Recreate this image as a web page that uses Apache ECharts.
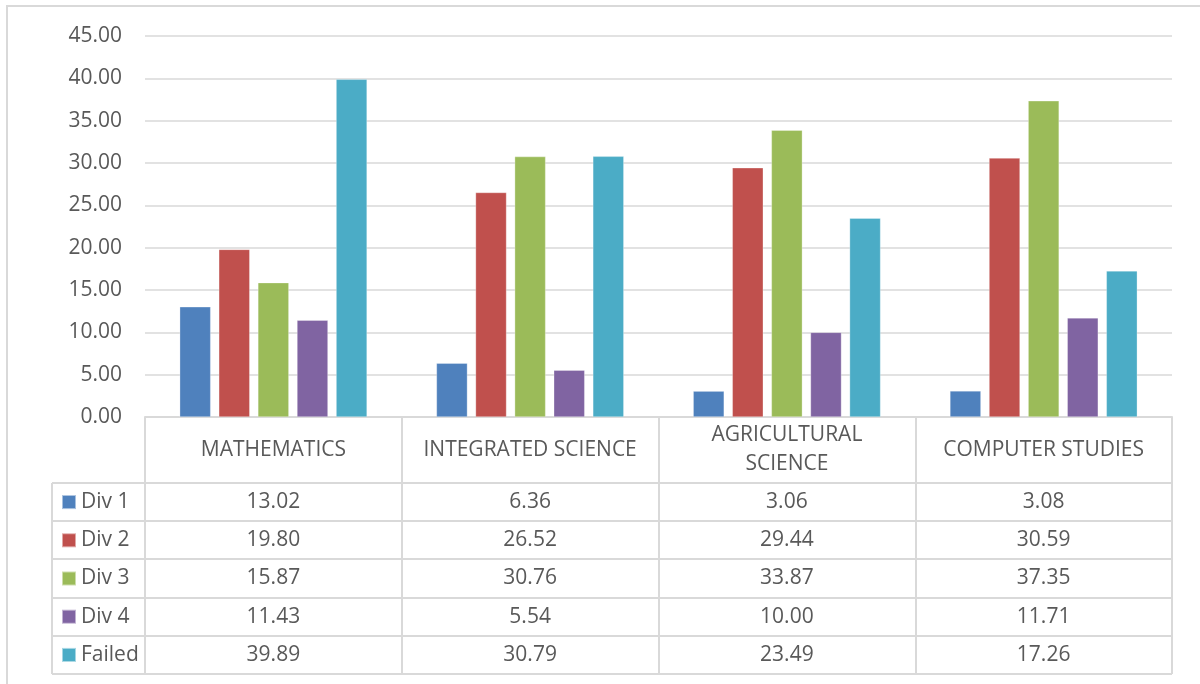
<!DOCTYPE html>
<html>
<head>
<meta charset="utf-8">
<title>Division results by subject</title>
<script src="https://cdn.jsdelivr.net/npm/echarts@6/dist/echarts.min.js"></script>
<style>
  html, body { margin: 0; padding: 0; background: #ffffff; }
  #chart { width: 1200px; height: 684px; }
</style>
</head>
<body>
<div id="chart"></div>
<script>
// Subjects along the category axis and their header text in the data table
const subjects = ['MATHEMATICS', 'INTEGRATED SCIENCE', 'AGRICULTURAL SCIENCE', 'COMPUTER STUDIES'];
const subjectHeaders = ['MATHEMATICS', 'INTEGRATED SCIENCE', 'AGRICULTURAL\nSCIENCE', 'COMPUTER STUDIES'];

// Percentage of candidates in each division, per subject
const div1 = [13.02, 6.36, 3.06, 3.08];
const div2 = [19.80, 26.52, 29.44, 30.59];
const div3 = [15.87, 30.76, 33.87, 37.35];
const div4 = [11.43, 5.54, 10.00, 11.71];
const failed = [39.89, 30.79, 23.49, 17.26];

const seriesNames = ['Div 1', 'Div 2', 'Div 3', 'Div 4', 'Failed'];
const seriesValues = [div1, div2, div3, div4, failed];
const seriesColors = ['#4f81bd', '#c0504d', '#9bbb59', '#8064a2', '#4bacc6'];

// Value axis ticks
const yMin = 0, yMax = 45, yStep = 5;

// Layout of the plot and the data table underneath it
const W = 1200, H = 684;
const plotLeft = 145, plotRight = 1172, plotTop = 36, plotBottom = 417;
const headerHeight = 66, rowHeight = 38.2;
const legendColLeft = 52;
const textColor = '#595959';
const lineColor = '#d9d9d9';
const fontFamily = '"Open Sans", "Noto Sans", sans-serif';
const fontSize = 21;

const chart = echarts.init(document.getElementById('chart'), null, { renderer: 'canvas' });

const tableBottom = plotBottom + headerHeight + rowHeight * seriesNames.length;

// One hidden category axis per table row prints that row's values
const rowAxes = seriesValues.map((vals, i) => ({
  type: 'category',
  gridIndex: 0,
  position: 'bottom',
  data: subjects,
  axisLine: { show: false },
  axisTick: { show: false },
  splitLine: { show: false },
  axisLabel: {
    interval: 0,
    margin: headerHeight + rowHeight * (i + 0.5),
    verticalAlign: 'middle',
    color: textColor,
    fontFamily: fontFamily,
    fontSize: fontSize,
    formatter: (v, idx) => vals[idx].toFixed(2)
  }
}));

// A single-item legend per row, placed in the table's left column
const legends = seriesNames.map((name, i) => ({
  data: [name],
  orient: 'vertical',
  left: legendColLeft + 9,
  top: plotBottom + headerHeight + rowHeight * (i + 0.5) - 12,
  padding: 0,
  icon: 'rect',
  itemWidth: 14,
  itemHeight: 14,
  selectedMode: false,
  textStyle: { color: textColor, fontFamily: fontFamily, fontSize: fontSize, lineHeight: 24 }
}));

// Table rules that reach past the plot into the legend column
const tableLines = [];
for (let i = 0; i <= seriesNames.length; i++) {
  const y = Math.round(plotBottom + headerHeight + rowHeight * i);
  tableLines.push({
    type: 'line',
    shape: { x1: legendColLeft, y1: y, x2: plotRight, y2: y },
    style: { stroke: lineColor, lineWidth: 2 },
    silent: true
  });
}
tableLines.push({
  type: 'line',
  shape: { x1: legendColLeft, y1: plotBottom + headerHeight, x2: legendColLeft, y2: Math.round(tableBottom) },
  style: { stroke: lineColor, lineWidth: 2 },
  silent: true
});

const option = {
  backgroundColor: '#ffffff',
  animation: false,
  textStyle: { fontFamily: fontFamily },
  grid: {
    left: plotLeft,
    right: W - plotRight,
    top: plotTop,
    bottom: H - plotBottom,
    containLabel: false
  },
  legend: legends,
  xAxis: [
    {
      type: 'category',
      data: subjects,
      position: 'bottom',
      axisLine: { show: true, lineStyle: { color: lineColor, width: 2 } },
      axisTick: {
        show: true,
        interval: 0,
        alignWithLabel: false,
        length: Math.round(tableBottom) - plotBottom,
        lineStyle: { color: lineColor, width: 2 }
      },
      axisLabel: {
        interval: 0,
        margin: headerHeight / 2,
        verticalAlign: 'middle',
        align: 'center',
        color: textColor,
        fontFamily: fontFamily,
        fontSize: fontSize,
        lineHeight: 29,
        formatter: (v, idx) => subjectHeaders[idx]
      },
      splitLine: { show: false }
    }
  ].concat(rowAxes),
  yAxis: {
    type: 'value',
    min: yMin,
    max: yMax,
    interval: yStep,
    axisLine: { show: false },
    axisTick: { show: false },
    axisLabel: {
      margin: 23,
      color: textColor,
      fontFamily: fontFamily,
      fontSize: fontSize,
      formatter: v => v.toFixed(2)
    },
    splitLine: { show: true, lineStyle: { color: lineColor, width: 1.5 } }
  },
  series: seriesNames.map((name, i) => ({
    name: name,
    type: 'bar',
    xAxisIndex: 0,
    data: seriesValues[i],
    barGap: '26%',
    barCategoryGap: '27%',
    itemStyle: { color: seriesColors[i], borderColor: 'rgba(255,255,255,0.5)', borderWidth: 0.6 },
    emphasis: { disabled: true }
  })),
  graphic: [
    {
      type: 'rect',
      shape: { x: 7, y: 6, width: W, height: H },
      style: { fill: 'none', stroke: lineColor, lineWidth: 2 },
      silent: true,
      z: -10
    }
  ].concat(tableLines)
};

chart.setOption(option);
</script>
</body>
</html>
